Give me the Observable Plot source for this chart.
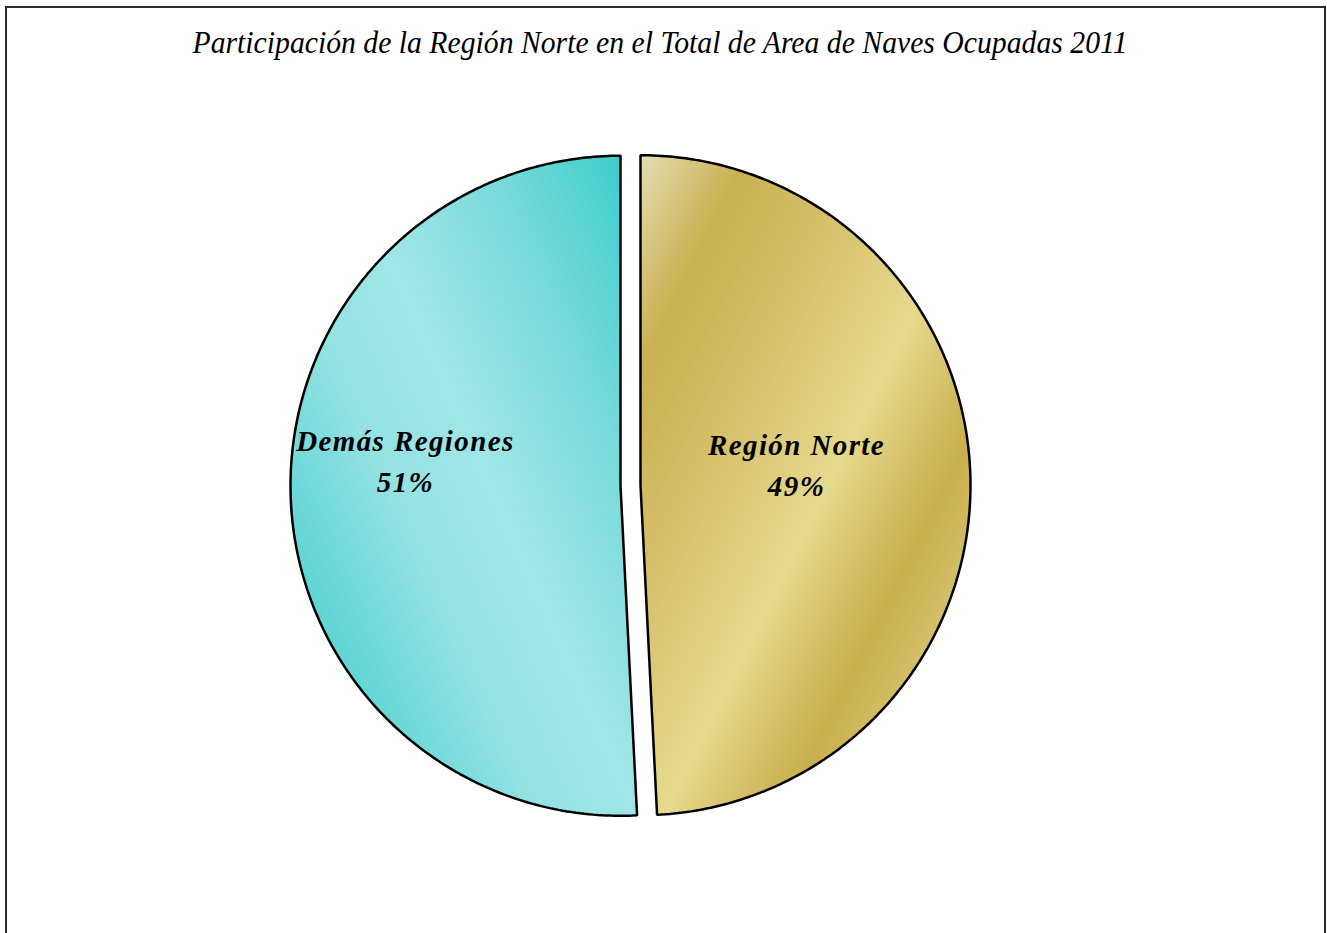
<!DOCTYPE html>
<html>
<head>
<meta charset="utf-8">
<script src="https://cdn.jsdelivr.net/npm/d3@7"></script>
<script src="https://cdn.jsdelivr.net/npm/@observablehq/plot@0.6"></script>
<style>
  html, body { margin: 0; padding: 0; background: #fff; overflow: hidden; }
  #frame { position: absolute; left: 5px; top: 6px; width: 1321px; height: 1000px;
           border: 2px solid #2a2a2a; box-sizing: border-box; }
  #chart { position: absolute; left: 0; top: 0; }
  #chart svg text { font-family: "Liberation Serif", "Times New Roman", Tinos, serif !important; }
</style>
</head>
<body>
<div id="frame"></div>
<div id="chart"></div>
<script>
// ---- data ----
const title = "Participación de la Región Norte en el Total de Area de Naves Ocupadas 2011";
const categories = ["Región Norte", "Demás Regiones"];
const shares = [49.2, 50.8];
const shareLabels = ["49%", "51%"];

// ---- layout ----
const W = 1327, H = 933;
const cx = 630, cy = 485, R = 330;       // pixel centre & radius of the pie
const explode = 10 / R;                   // radial offset of each slice
const labelPos = {                        // label placement: [radial fraction, vertical shift]
  "Región Norte": [0.473, 0.058],
  "Demás Regiones": [0.652, 0.10]
};
const gradIds = ["gradNorte", "gradDemas"];

// ---- geometry from d3.pie ----
const arcs = d3.pie().sort(null).value(d => d.v)(categories.map((c, i) => ({c, v: shares[i], lab: shareLabels[i]})));
const points = [];
const labelRows = [];
arcs.forEach(a => {
  const mid = (a.startAngle + a.endAngle) / 2;
  const ox = explode * Math.sin(mid), oy = explode * Math.cos(mid);
  points.push({name: a.data.c, x: ox, y: oy});
  const n = 240;
  for (let k = 0; k <= n; k++) {
    const t = a.startAngle + (a.endAngle - a.startAngle) * k / n;
    points.push({name: a.data.c, x: ox + Math.sin(t), y: oy + Math.cos(t)});
  }
  const [f, dv] = labelPos[a.data.c];
  labelRows.push({
    text: a.data.c + "\n" + a.data.lab,
    x: ox + f * Math.sin(mid),
    y: oy + f * Math.cos(mid) + dv
  });
});

// ---- gradients (metallic gold, cyan) ----
function defs() {
  const d = d3.create("svg:defs");
  const g1 = d.append("linearGradient").attr("id", gradIds[0])
    .attr("gradientUnits", "userSpaceOnUse")
    .attr("x1", 640).attr("y1", 155).attr("x2", 640 + 500 * 0.894).attr("y2", 155 + 500 * 0.447);
  [[0, "#e3ddb2"], [0.19, "#c9b050"], [0.40, "#d6c16c"], [0.63, "#e5d98c"], [0.845, "#c8ae4c"], [1, "#dac777"]]
    .forEach(([o, c]) => g1.append("stop").attr("offset", o).attr("stop-color", c));
  const g2 = d.append("linearGradient").attr("id", gradIds[1])
    .attr("gradientUnits", "userSpaceOnUse")
    .attr("x1", 620).attr("y1", 155).attr("x2", 620 - 480 * 0.914).attr("y2", 155 + 480 * 0.406);
  [[0, "#3ccdcd"], [0.25, "#78dada"], [0.52, "#a0e6e6"], [0.72, "#93e2e2"], [1, "#58d3d3"]]
    .forEach(([o, c]) => g2.append("stop").attr("offset", o).attr("stop-color", c));
  return d.node();
}

const chart = Plot.plot({
  width: W,
  height: H,
  margin: 0,
  style: {background: "transparent", overflow: "visible"},
  x: {domain: [-cx / R, (W - cx) / R], axis: null},
  y: {domain: [-(H - cy) / R, cy / R], axis: null},
  marks: [
    defs,
    ...categories.map((c, i) => Plot.line(points.filter(p => p.name === c), {
      x: "x", y: "y", curve: "linear-closed",
      fill: `url(#${gradIds[i]})`, stroke: "#000", strokeWidth: 2.5, strokeLinejoin: "miter"
    })),
    Plot.text(labelRows, {
      x: "x", y: "y", text: "text",
      fontFamily: "Liberation Serif",
      fontSize: 29, fontWeight: "bold", fontStyle: "italic",
      lineHeight: 1.42, lineAnchor: "middle", textAnchor: "middle", fill: "#000"
    }),
    Plot.text([title], {
      frameAnchor: "top", dx: -4, dy: 30, lineAnchor: "top",
      fontFamily: "Liberation Serif",
      fontSize: 32, fontStyle: "italic", fill: "#000"
    })
  ]
});

// compressed title, letter spacing for the slice labels
d3.select(chart).selectAll("text").each(function () {
  if (this.textContent === title) {
    d3.select(this).attr("textLength", 935).attr("lengthAdjust", "spacingAndGlyphs");
  }
});
d3.select(chart).selectAll("g[aria-label='text']").filter((d, i) => i === 0)
  .style("letter-spacing", "1.4px");

document.getElementById("chart").appendChild(chart);
</script>
</body>
</html>
